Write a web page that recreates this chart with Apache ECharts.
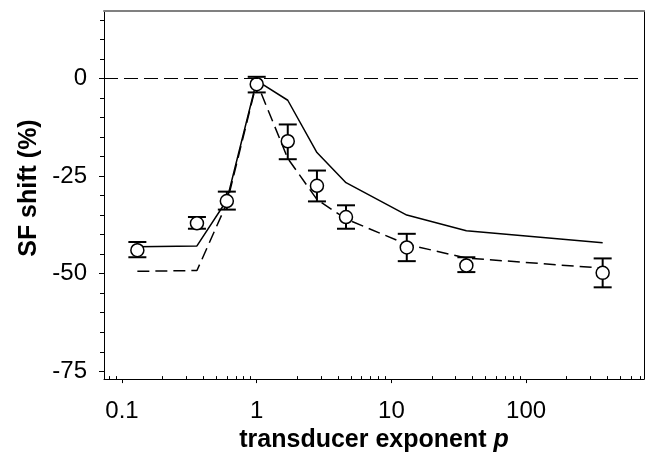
<!DOCTYPE html>
<html>
<head>
<meta charset="utf-8">
<script src="https://cdn.jsdelivr.net/npm/echarts@6/dist/echarts.min.js"></script>
<style>
  html, body { margin: 0; padding: 0; background: #fff; }
  #chart { width: 650px; height: 458px; }
</style>
</head>
<body>
<div id="chart"></div>
<script>
// transducer exponent p (x, log scale)
const pValues = [0.13, 0.36, 0.6, 1.0, 1.7, 2.8, 4.6, 13, 36, 370];
// measured SF shift (%) with error bar limits
const sfMean = [-44, -37.1, -31.4, -1.5, -16.1, -27.5, -35.5, -43.3, -47.9, -49.8];
const sfLow  = [-45.8, -38.5, -33.6, -3.6, -20.7, -31.5, -38.5, -46.8, -49.6, -53.5];
const sfHigh = [-41.9, -35.5, -29.0, 0.4, -11.8, -23.6, -32.5, -39.8, -45.8, -46.1];
// model predictions
const modelSolid  = [-43.1, -42.9, -31.2, -0.6, -5.6, -19, -26.7, -35, -39, -42.1];
const modelDashed = [-49.4, -49.2, -32, -1.0, -20.5, -31, -36, -42.5, -46, -48.6];
// ticks
const xTickLabels = [0.1, 1, 10, 100];
const yTickLabels = [-75, -50, -25, 0];

const xMinorTicks = [0.08, 0.09];
[0.1, 1, 10, 100].forEach(function (d) {
  for (let k = 2; k <= 9; k++) {
    const v = +(d * k).toPrecision(3);
    if (v <= 700) xMinorTicks.push(v);
  }
});
const yMinorTicks = [];
for (let v = -70; v <= 15; v += 5) {
  if (yTickLabels.indexOf(v) < 0) yMinorTicks.push(v);
}

const xMin = 0.0735, xMax = 750;
const yMin = -77, yMax = 17.25;
const font = "'Liberation Sans', Arial, sans-serif";

const chart = echarts.init(document.getElementById('chart'));

const errData = pValues.map(function (p, i) { return [p, sfLow[i], sfHigh[i]]; });

const option = {
  animation: false,
  backgroundColor: '#fff',
  grid: { left: 104, right: 6, top: 11, bottom: 70, containLabel: false },
  xAxis: [
    {
      type: 'log', logBase: 10, min: xMin, max: xMax, position: 'bottom',
      name: 'transducer exponent {it|p}', nameLocation: 'middle', nameGap: 47,
      nameTextStyle: { fontFamily: font, fontSize: 25, fontWeight: 'bold', color: '#000',
        rich: { it: { fontFamily: font, fontSize: 25, fontWeight: 'bold', fontStyle: 'italic', color: '#000' } } },
      axisLine: { show: true, onZero: false, lineStyle: { color: '#000', width: 1 } },
      axisTick: { show: true, inside: false, length: 4, customValues: xTickLabels,
        lineStyle: { color: '#000', width: 1 } },
      axisLabel: { show: true, customValues: xTickLabels, margin: 20,
        fontFamily: font, fontSize: 24, color: '#000',
        formatter: function (v) { return String(+v.toPrecision(3)); } },
      splitLine: { show: false }, minorTick: { show: false }
    },
    {
      type: 'log', logBase: 10, min: xMin, max: xMax, position: 'bottom',
      axisLine: { show: false, onZero: false },
      axisTick: { show: true, inside: true, length: 3, customValues: xMinorTicks,
        lineStyle: { color: '#000', width: 1 } },
      axisLabel: { show: false }, splitLine: { show: false }
    },
    {
      type: 'log', logBase: 10, min: xMin, max: xMax, position: 'top',
      axisLine: { show: true, onZero: false, lineStyle: { color: '#808080', width: 2 } },
      axisTick: { show: false }, axisLabel: { show: false }, splitLine: { show: false }
    }
  ],
  yAxis: [
    {
      type: 'value', min: yMin, max: yMax, position: 'left',
      name: 'SF shift (%)', nameLocation: 'middle', nameGap: 54, nameRotate: 90,
      nameTextStyle: { fontFamily: font, fontSize: 25, fontWeight: 'bold', color: '#000',
        padding: [0, 0, 0, 14] },
      axisLine: { show: true, onZero: false, lineStyle: { color: '#000', width: 1 } },
      axisTick: { show: true, inside: false, length: 5, customValues: yTickLabels,
        lineStyle: { color: '#000', width: 1 } },
      axisLabel: { show: true, customValues: yTickLabels, margin: 17,
        fontFamily: font, fontSize: 24, color: '#000' },
      splitLine: { show: false }
    },
    {
      type: 'value', min: yMin, max: yMax, position: 'left',
      axisLine: { show: false, onZero: false },
      axisTick: { show: true, inside: false, length: 4, customValues: yMinorTicks,
        lineStyle: { color: '#000', width: 1 } },
      axisLabel: { show: false }, splitLine: { show: false }
    },
    {
      type: 'value', min: yMin, max: yMax, position: 'right',
      axisLine: { show: true, onZero: false, lineStyle: { color: '#000', width: 1 } },
      axisTick: { show: false }, axisLabel: { show: false }, splitLine: { show: false }
    }
  ],
  series: [
    {
      name: 'model solid', type: 'line', z: 2,
      data: pValues.map(function (p, i) { return [p, modelSolid[i]]; }),
      symbol: 'none', lineStyle: { color: '#000', width: 1.5 },
      markLine: {
        silent: true, symbol: 'none', label: { show: false },
        lineStyle: { color: '#000', width: 1, type: [14, 6] },
        data: [{ yAxis: 0 }]
      }
    },
    {
      name: 'model dashed', type: 'line', z: 2,
      data: pValues.map(function (p, i) { return [p, modelDashed[i]]; }),
      symbol: 'none', lineStyle: { color: '#000', width: 1.5, type: [12, 6] }
    },
    {
      name: 'error', type: 'custom', z: 3,
      data: errData,
      encode: { x: 0, y: [1, 2] },
      renderItem: function (params, api) {
        const top = api.coord([api.value(0), api.value(2)]);
        const bot = api.coord([api.value(0), api.value(1)]);
        const w = 9;
        const st = { stroke: '#000', lineWidth: 2 };
        return {
          type: 'group',
          children: [
            { type: 'line', shape: { x1: top[0], y1: top[1], x2: bot[0], y2: bot[1] }, style: st },
            { type: 'line', shape: { x1: top[0] - w, y1: top[1], x2: top[0] + w, y2: top[1] }, style: st },
            { type: 'line', shape: { x1: bot[0] - w, y1: bot[1], x2: bot[0] + w, y2: bot[1] }, style: st }
          ]
        };
      }
    },
    {
      name: 'data', type: 'scatter', z: 4,
      data: pValues.map(function (p, i) { return [p, sfMean[i]]; }),
      symbol: 'circle', symbolSize: 13,
      itemStyle: { color: '#fff', borderColor: '#000', borderWidth: 1.5, opacity: 1 }
    }
  ]
};

chart.setOption(option);
</script>
</body>
</html>
